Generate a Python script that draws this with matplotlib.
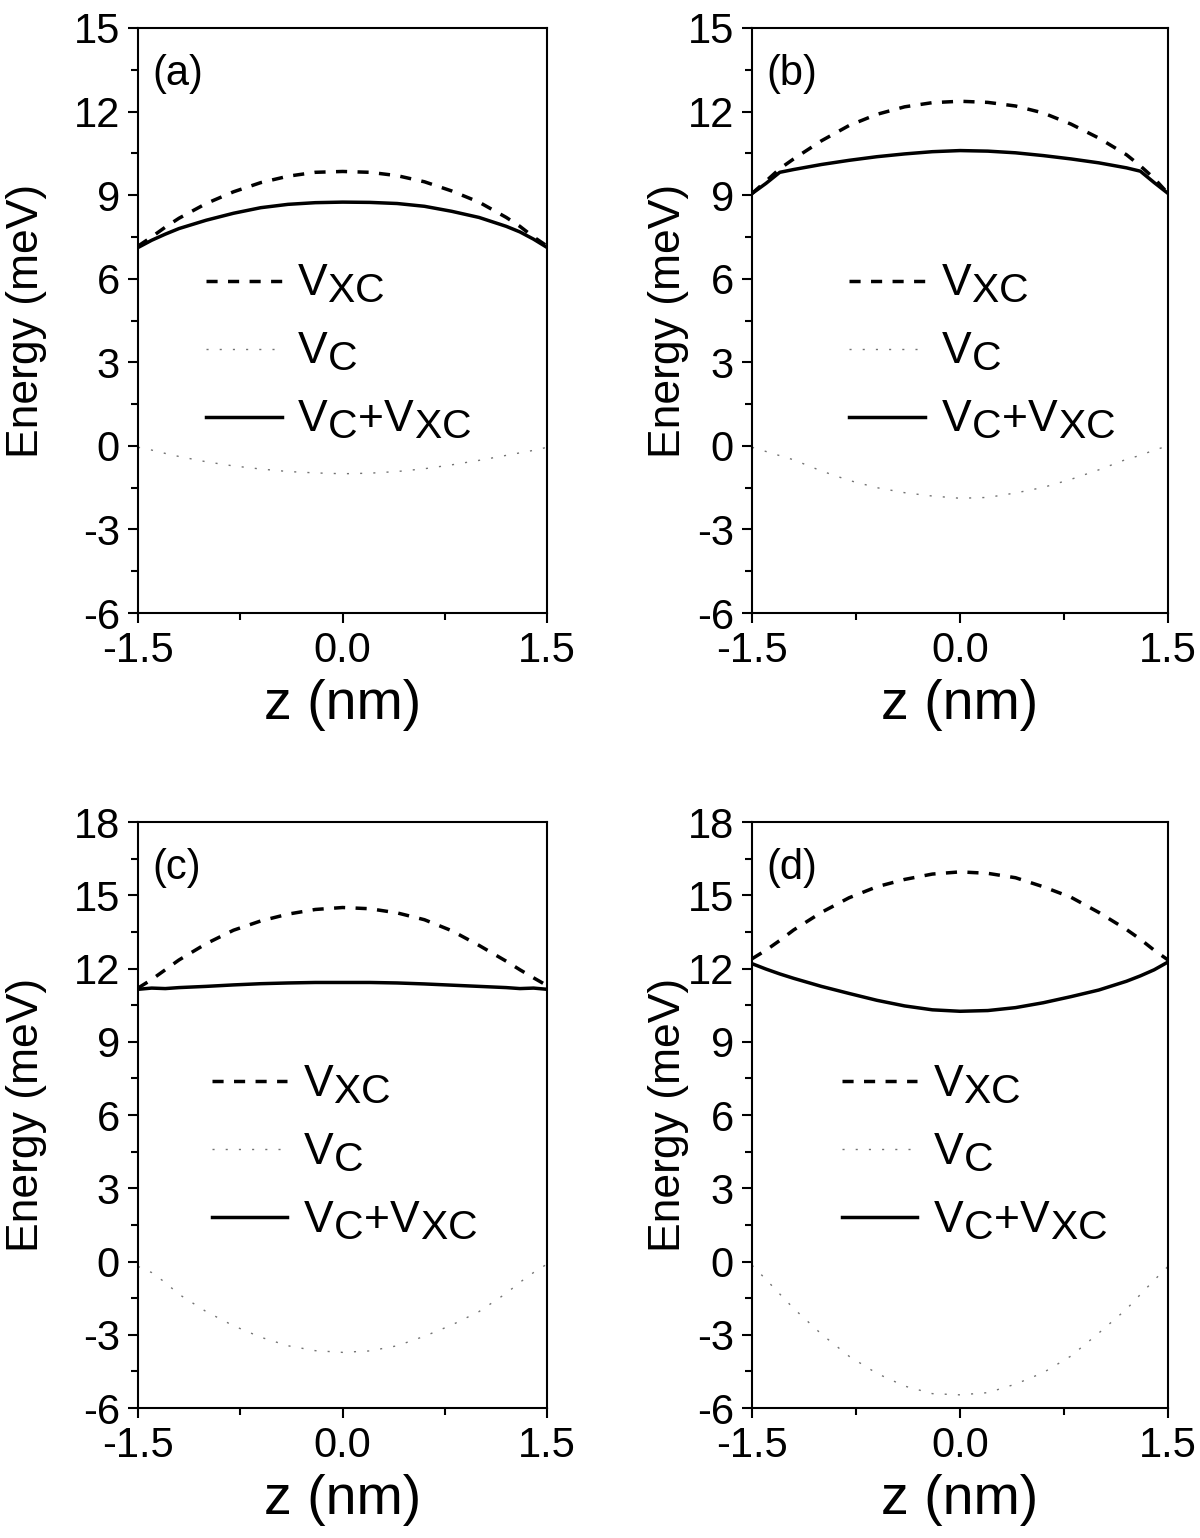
import matplotlib
matplotlib.use('Agg')
import matplotlib.pyplot as plt
from matplotlib.ticker import MultipleLocator

# subscripts in the original legend are nearly full size
try:
    import matplotlib._mathtext as _mt
    _mt.SHRINK_FACTOR = 0.92
except Exception:
    pass

plt.rcParams['font.family'] = ['Liberation Sans', 'DejaVu Sans']
plt.rcParams['mathtext.fontset'] = 'custom'
plt.rcParams['mathtext.rm'] = 'Liberation Sans'
plt.rcParams['axes.unicode_minus'] = False

# '''
#     data, z in nm, energies in meV
# '''
z = [-1.5, -1.4, -1.3, -1.2, -1.0, -0.8, -0.6, -0.4, -0.2, 0.0,
     0.2, 0.4, 0.6, 0.8, 1.0, 1.2, 1.3, 1.4, 1.5]

vxc_a = [7.17, 7.5, 7.85, 8.17, 8.7, 9.12, 9.45, 9.68, 9.82, 9.85,
         9.82, 9.7, 9.48, 9.15, 8.75, 8.2, 7.88, 7.5, 7.17]
vc_a = [-0.05, -0.15, -0.27, -0.38, -0.57, -0.72, -0.83, -0.92, -0.97, -1.0,
        -0.98, -0.92, -0.82, -0.68, -0.52, -0.34, -0.25, -0.16, -0.05]
tot_a = [7.12, 7.38, 7.6, 7.8, 8.1, 8.35, 8.55, 8.67, 8.73, 8.75,
         8.74, 8.7, 8.6, 8.42, 8.2, 7.88, 7.68, 7.42, 7.12]

vxc_b = [9.06, 9.5, 9.95, 10.3, 10.95, 11.5, 11.9, 12.17, 12.32, 12.37,
         12.33, 12.2, 11.95, 11.55, 11.05, 10.45, 10.05, 9.6, 9.06]
vc_b = [-0.05, -0.2, -0.35, -0.5, -0.9, -1.24, -1.5, -1.68, -1.8, -1.88,
        -1.85, -1.69, -1.49, -1.2, -0.86, -0.48, -0.34, -0.15, 0.0]
tot_b = [9.06, 9.42, 9.82, 9.92, 10.1, 10.25, 10.38, 10.48, 10.56, 10.6,
         10.58, 10.52, 10.42, 10.3, 10.16, 9.98, 9.86, 9.45, 9.06]

vxc_c = [11.2, 11.55, 11.95, 12.35, 13.02, 13.57, 13.95, 14.23, 14.42, 14.5,
         14.45, 14.28, 14.0, 13.55, 12.95, 12.3, 11.95, 11.62, 11.3]
vc_c = [-0.2, -0.45, -0.86, -1.34, -2.05, -2.63, -3.1, -3.45, -3.65, -3.72,
        -3.66, -3.45, -3.06, -2.6, -2.05, -1.3, -0.85, -0.45, -0.1]
tot_c = [11.15, 11.2, 11.18, 11.22, 11.27, 11.33, 11.38, 11.41, 11.43, 11.43,
         11.43, 11.41, 11.37, 11.32, 11.27, 11.22, 11.18, 11.2, 11.15]

vxc_d = [12.4, 12.75, 13.15, 13.58, 14.3, 14.9, 15.35, 15.65, 15.87, 15.96,
         15.9, 15.72, 15.35, 14.92, 14.3, 13.6, 13.2, 12.75, 12.35]
vc_d = [-0.15, -0.73, -1.33, -1.92, -2.97, -3.88, -4.58, -5.1, -5.41, -5.46,
        -5.37, -5.02, -4.55, -3.87, -2.93, -1.95, -1.35, -0.76, -0.2]
tot_d = [12.2, 11.98, 11.78, 11.6, 11.27, 10.98, 10.7, 10.47, 10.31, 10.25,
         10.28, 10.4, 10.6, 10.85, 11.12, 11.48, 11.7, 11.95, 12.27]

panel_tags = ['(a)', '(b)', '(c)', '(d)']
y_limits = [(-6, 15), (-6, 15), (-6, 18), (-6, 18)]
x_ticks = [-1.5, 0.0, 1.5]
x_ticklabels = ['-1.5', '0.0', '1.5']
labels = [r'$\mathregular{V_{XC}}$', r'$\mathregular{V_{C}}$',
          r'$\mathregular{V_{C}{+}V_{XC}}$']

# axes boxes in figure fraction [left, bottom, width, height]
boxes = [[0.115, 0.6014, 0.341, 0.3804],
         [0.6267, 0.6014, 0.3467, 0.3804],
         [0.115, 0.0845, 0.341, 0.381],
         [0.6267, 0.0845, 0.3467, 0.381]]
legend_anchor = [(0.167, 0.598), (0.234, 0.598), (0.18, 0.588), (0.216, 0.588)]
ylabel_x = [-0.222, -0.152, -0.222, -0.152]

fig = plt.figure(figsize=(12, 15.38), dpi=100)

series = [(vxc_a, vc_a, tot_a), (vxc_b, vc_b, tot_b),
          (vxc_c, vc_c, tot_c), (vxc_d, vc_d, tot_d)]

for i, (vxc, vc, tot) in enumerate(series):
    ax = fig.add_axes(boxes[i])
    ax.plot(z, vxc, color='black', lw=2.5, linestyle=(0, (3.2, 3.0)),
            label=labels[0])
    ax.plot(z, vc, color='0.45', lw=1.0, linestyle=(0, (1.5, 8)),
            label=labels[1])
    ax.plot(z, tot, color='black', lw=2.5, label=labels[2])

    ax.set_xlim(-1.5, 1.5)
    ax.set_ylim(*y_limits[i])
    ax.set_xticks(x_ticks)
    ax.set_xticklabels(x_ticklabels)
    ax.xaxis.set_minor_locator(MultipleLocator(0.75))
    ax.yaxis.set_major_locator(MultipleLocator(3))
    ax.yaxis.set_minor_locator(MultipleLocator(1.5))
    ax.tick_params(which='both', direction='out', width=1.5,
                   top=False, right=False, labelsize=30, pad=6)
    ax.tick_params(which='major', length=7)
    ax.tick_params(which='minor', length=5)
    for sp in ax.spines.values():
        sp.set_linewidth(1.5)

    ax.set_ylabel('Energy (meV)', fontsize=32)
    ax.yaxis.set_label_coords(ylabel_x[i], 0.5)
    ax.set_xlabel('z (nm)', fontsize=40)
    ax.xaxis.set_label_coords(0.5, -0.112)

    ax.text(0.035, 0.955, panel_tags[i], transform=ax.transAxes,
            fontsize=30, ha='left', va='top')

    ax.legend(loc='upper left', bbox_to_anchor=legend_anchor[i],
              frameon=False, fontsize=32, handlelength=1.7,
              handletextpad=0.35, labelspacing=0.58, borderpad=0,
              borderaxespad=0)

fig.savefig('out.png', dpi=100)
